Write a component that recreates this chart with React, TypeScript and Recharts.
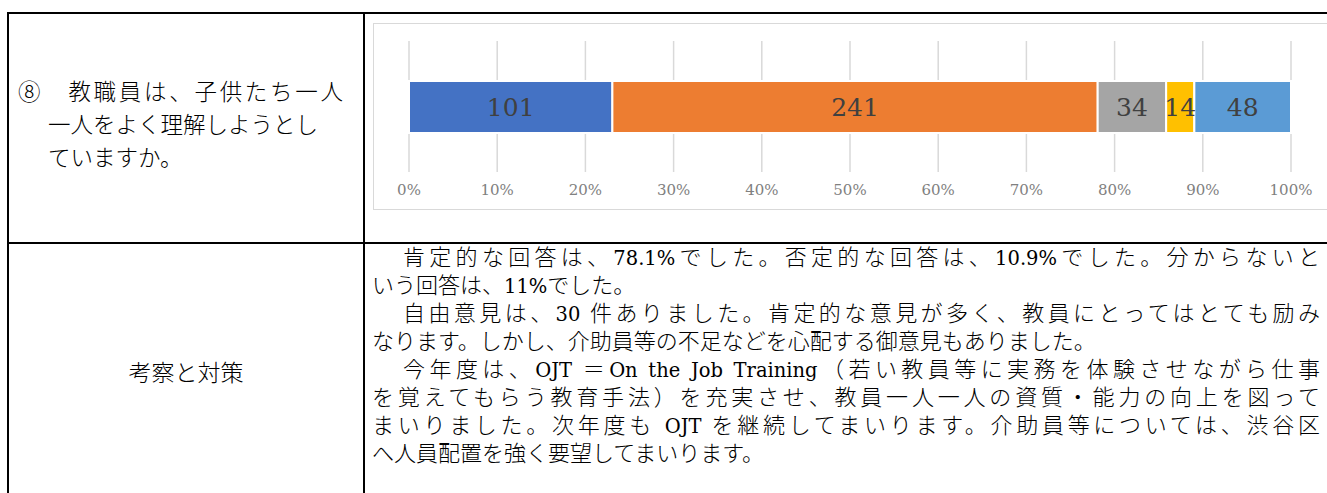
import React from 'react';
import { BarChart, Bar, XAxis, YAxis, CartesianGrid, LabelList } from 'recharts';

// ---- data ----
const categories = ['⑧'];
const seriesNames = ['とてもそう思う', 'そう思う', 'あまりそう思わない', 'そう思わない', '分からない'];
const seriesValues = [101, 241, 34, 14, 48];
const seriesColors = ['#4472C4', '#ED7D31', '#A5A5A5', '#FFC000', '#5B9BD5'];
const tickValues = [0, 0.1, 0.2, 0.3, 0.4, 0.5, 0.6, 0.7, 0.8, 0.9, 1];
const tickLabels = ['0%', '10%', '20%', '30%', '40%', '50%', '60%', '70%', '80%', '90%', '100%'];

const questionLines = ['⑧　教職員は、子供たち一人', '一人をよく理解しようとし', 'ていますか。'];
const headerLabel = '考察と対策';
// [text, indented, justified]
const bodyLines: [string, boolean, boolean][] = [
  ['肯定的な回答は、78.1%でした。否定的な回答は、10.9%でした。分からないと', true, true],
  ['いう回答は、11%でした。', false, false],
  ['自由意見は、30 件ありました。肯定的な意見が多く、教員にとってはとても励み', true, true],
  ['なります。しかし、介助員等の不足などを心配する御意見もありました。', false, false],
  ['今年度は、OJT ＝On the Job Training（若い教員等に実務を体験させながら仕事', true, true],
  ['を覚えてもらう教育手法）を充実させ、教員一人一人の資質・能力の向上を図って', false, true],
  ['まいりました。次年度も OJT を継続してまいります。介助員等については、渋谷区', false, true],
  ['へ人員配置を強く要望してまいります。', false, false],
];

const rows = categories.map((c) => {
  const r: Record<string, string | number> = { name: c };
  seriesNames.forEach((s, i) => (r[s] = seriesValues[i]));
  return r;
});

const CJK = '"Noto Sans CJK JP", sans-serif';
const LATIN = '"DejaVu Serif", serif';

const line = (style: React.CSSProperties) => (
  <div style={{ position: 'absolute', background: '#000', ...style }} />
);

const runs = (t: string, latinSize: number) =>
  t.split(/([\x20-\x7E]+)/).filter((s) => s.length > 0).map((s, i) =>
    /^[\x20-\x7E]+$/.test(s) ? (
      <span key={i} style={{ fontFamily: LATIN, fontSize: latinSize, fontWeight: 400, lineHeight: 1 }}>{s}</span>
    ) : (
      <span key={i}>{s}</span>
    )
  );

export default function App() {
  return (
    <div
      style={{
        position: 'fixed',
        left: 0,
        top: 0,
        width: 1327,
        height: 493,
        overflow: 'hidden',
        background: '#fff',
        fontFamily: CJK,
        color: '#000',
      }}
    >
      {line({ left: 7, top: 12, width: 1400, height: 2 })}
      {line({ left: 7, top: 12, width: 2, height: 600 })}
      {line({ left: 363, top: 12, width: 2, height: 600 })}
      {line({ left: 7, top: 242, width: 1400, height: 2 })}

      {/* question cell */}
      <div style={{ position: 'absolute', left: 18, top: 74, width: 325, fontSize: 22.5, lineHeight: '33px', fontWeight: 300 }}>
        {questionLines.map((t, i) => (
          <div
            key={i}
            style={{
              height: 33,
              paddingLeft: i === 0 ? 0 : 30,
              whiteSpace: 'nowrap',
              textAlign: i === 0 ? 'justify' : 'left',
              textAlignLast: i === 0 ? 'justify' : 'left',
            }}
          >
            {t}
          </div>
        ))}
      </div>

      {/* chart frame */}
      <div style={{ position: 'absolute', left: 373, top: 23, width: 1000, height: 185, border: '1px solid #d9d9d9' }} />
      <div style={{ position: 'absolute', left: 374, top: 24 }}>
        <BarChart
          width={950}
          height={185}
          data={rows}
          layout="vertical"
          stackOffset="expand"
          margin={{ top: 17, right: 33, bottom: 7, left: 35 }}
        >
          <CartesianGrid vertical horizontal={false} stroke="#d9d9d9" strokeWidth={1.5} />
          <XAxis
            type="number"
            domain={[0, 1]}
            ticks={tickValues}
            interval={0}
            height={30}
            axisLine={false}
            tickLine={false}
            tickMargin={6}
            tick={{ fill: '#808080', fontSize: 15, fontFamily: LATIN }}
            tickFormatter={(v: number) => tickLabels[tickValues.findIndex((t) => Math.abs(t - v) < 1e-6)] ?? ''}
          />
          <YAxis type="category" dataKey="name" hide />
          {seriesNames.map((s, i) => (
            <Bar key={s} dataKey={s} stackId="a" fill={seriesColors[i]} stroke="#fff" strokeWidth={2} barSize={52} isAnimationActive={false}>
              <LabelList dataKey={s} position="center" fill="#404040" fontSize={25} fontFamily={LATIN} />
            </Bar>
          ))}
        </BarChart>
      </div>

      {/* header label */}
      <div style={{ position: 'absolute', left: 9, width: 354, top: 356, textAlign: 'center', fontSize: 23, lineHeight: '30px', fontWeight: 300 }}>
        {headerLabel}
      </div>

      {/* body text */}
      <div style={{ position: 'absolute', left: 372, top: 240.5, width: 948, fontSize: 22, lineHeight: '28px', fontWeight: 300 }}>
        {bodyLines.map(([t, indent, just], i) => (
          <div
            key={i}
            style={{
              height: 28,
              overflow: 'visible',
              paddingLeft: indent ? 31 : 0,
              whiteSpace: 'nowrap',
              textAlign: just ? 'justify' : 'left',
              textAlignLast: just ? 'justify' : 'left',
            }}
          >
            {runs(t, 19.5)}
          </div>
        ))}
      </div>
    </div>
  );
}
